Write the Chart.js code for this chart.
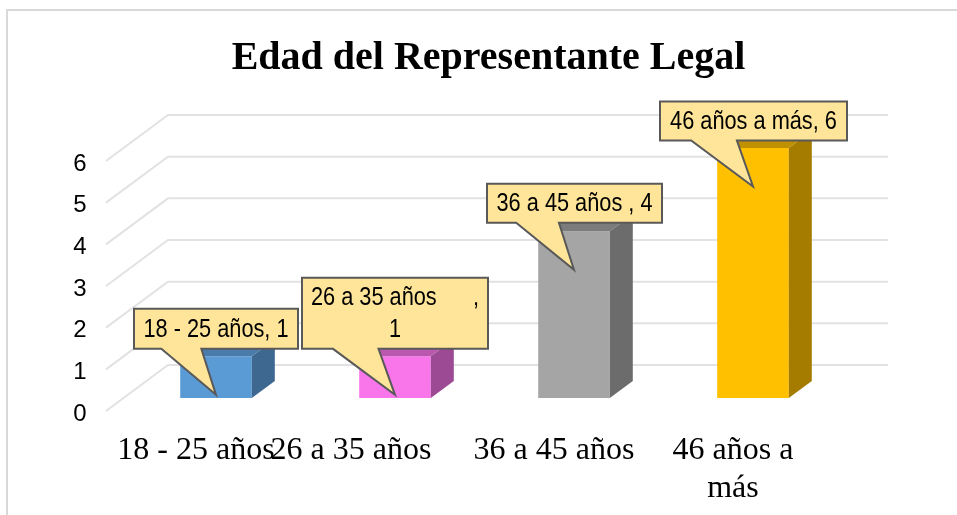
<!DOCTYPE html>
<html>
<head>
<meta charset="utf-8">
<style>html,body{margin:0;padding:0;background:#fff}canvas{display:block}</style>
<script src="https://cdn.jsdelivr.net/npm/chart.js@4"></script>
</head>
<body>
<div style="width:957px;height:515px"><canvas id="c" width="957" height="515"></canvas></div>
<script>
const categories = ['18 - 25 años', '26 a 35 años      ', '36 a 45 años', ['46 años a', 'más']];
const values = [1, 1, 4, 6];
const calloutLines = [['18 - 25 años, 1'], ['26 a 35 años      ,', '1'], ['36 a 45 años , 4'], ['46 años a más, 6']];
const frontColors = ['#5B9BD5', '#F875EA', '#A5A5A5', '#FFC000'];
const topColors = ['#4A7CAB', '#BA58AF', '#7C7C7C', '#BF9000'];
const sideColors = ['#3E6890', '#9C4A93', '#6C6C6C', '#A67C00'];
const yTicks = [0, 1, 2, 3, 4, 5, 6];

const depth = {dx: 23, dy: 17};
const wall = {left: 168, right: 888, dy: 33, frontX: 106, frontDy: 13};
const boxes = [
  {l: -82, r: 82, t: -86, b: -46},
  {l: -93, r: 93, t: -117, b: -46},
  {l: -87, r: 88, t: -86, b: -47},
  {l: -93, r: 94, t: -85, b: -46}
];
const calloutFont = '25px "Liberation Sans", sans-serif';
const calloutSquash = 0.87;

const scene = {
  id: 'scene',
  beforeDatasetsDraw(chart) {
    const {ctx, scales: {y}} = chart;
    ctx.save();
    ctx.strokeStyle = '#D9D9D9';
    ctx.lineWidth = 2;
    ctx.beginPath();
    ctx.moveTo(7, 515); ctx.lineTo(7, 10); ctx.lineTo(957, 10);
    ctx.stroke();
    ctx.strokeStyle = '#E2E2E2';
    yTicks.forEach(v => {
      const py = y.getPixelForValue(v);
      ctx.beginPath();
      ctx.moveTo(wall.frontX, py + wall.frontDy);
      ctx.lineTo(wall.left, py - wall.dy);
      ctx.lineTo(wall.right, py - wall.dy);
      ctx.stroke();
    });
    ctx.restore();
  },
  afterDatasetsDraw(chart) {
    const {ctx} = chart;
    const els = chart.getDatasetMeta(0).data;
    ctx.save();
    els.forEach((el, i) => {
      const x0 = el.x - el.width / 2, x1 = el.x + el.width / 2, top = el.y, base = el.base;
      ctx.fillStyle = topColors[i];
      ctx.beginPath();
      ctx.moveTo(x0, top); ctx.lineTo(x1, top);
      ctx.lineTo(x1 + depth.dx, top - depth.dy); ctx.lineTo(x0 + depth.dx, top - depth.dy);
      ctx.closePath(); ctx.fill();
      ctx.fillStyle = sideColors[i];
      ctx.beginPath();
      ctx.moveTo(x1, top); ctx.lineTo(x1 + depth.dx, top - depth.dy);
      ctx.lineTo(x1 + depth.dx, base - depth.dy); ctx.lineTo(x1, base);
      ctx.closePath(); ctx.fill();
    });
    els.forEach((el, i) => {
      const tipX = el.x, tipY = el.y + 38.5, b = boxes[i];
      const L = tipX + b.l, R = tipX + b.r, T = tipY + b.t, B = tipY + b.b, w = R - L;
      ctx.beginPath();
      ctx.moveTo(L, T); ctx.lineTo(R, T); ctx.lineTo(R, B);
      ctx.lineTo(L + w * 5 / 12 - 1, B); ctx.lineTo(tipX, tipY); ctx.lineTo(L + w / 6, B);
      ctx.lineTo(L, B); ctx.closePath();
      ctx.fillStyle = '#FFE599';
      ctx.strokeStyle = '#595959';
      ctx.lineWidth = 2;
      ctx.lineJoin = 'miter';
      ctx.fill(); ctx.stroke();
      ctx.fillStyle = '#000';
      ctx.font = calloutFont;
      ctx.textAlign = 'center';
      ctx.textBaseline = 'middle';
      const lines = calloutLines[i];
      const cy = (T + B) / 2 + 1;
      lines.forEach((s, k) => {
        ctx.save();
        ctx.translate((L + R) / 2, cy + (k - (lines.length - 1) / 2) * 32);
        ctx.scale(calloutSquash, 1);
        ctx.fillText(s, 0, 0);
        ctx.restore();
      });
    });
    ctx.restore();
  }
};

new Chart(document.getElementById('c'), {
  type: 'bar',
  data: {
    labels: categories,
    datasets: [{data: values, backgroundColor: frontColors, borderWidth: 0, barPercentage: 0.8, categoryPercentage: 0.5}]
  },
  plugins: [scene],
  options: {
    responsive: false,
    animation: false,
    layout: {padding: {left: 20, right: 0, top: 0, bottom: 0}},
    plugins: {
      legend: {display: false},
      tooltip: {enabled: false},
      title: {
        display: true,
        text: 'Edad del Representante Legal',
        color: '#000',
        font: {family: '"Liberation Serif"', size: 40, weight: 'bold', lineHeight: 1.2},
        padding: {top: 35, bottom: 65}
      }
    },
    scales: {
      x: {
        grid: {display: false},
        border: {display: false},
        afterFit(s) { s.height = 117; },
        ticks: {
          color: '#000',
          font: {family: '"Liberation Serif"', size: 32, lineHeight: 1.17},
          padding: 26,
          labelOffset: -20,
          maxRotation: 0,
          autoSkip: false
        }
      },
      y: {
        min: 0,
        max: 6,
        grid: {display: false, drawTicks: false},
        border: {display: false},
        afterFit(s) { s.width = 106.5; },
        afterBuildTicks(s) { s.ticks = yTicks.map(v => ({value: v})); },
        ticks: {
          color: '#000',
          font: {family: '"Liberation Sans"', size: 24},
          padding: 40,
          labelOffset: 16
        }
      },
      y2: {
        position: 'right',
        display: true,
        min: 0,
        max: 6,
        grid: {display: false},
        border: {display: false},
        ticks: {display: false},
        afterFit(s) { s.width = 114.5; }
      }
    }
  }
});
</script>
</body>
</html>
